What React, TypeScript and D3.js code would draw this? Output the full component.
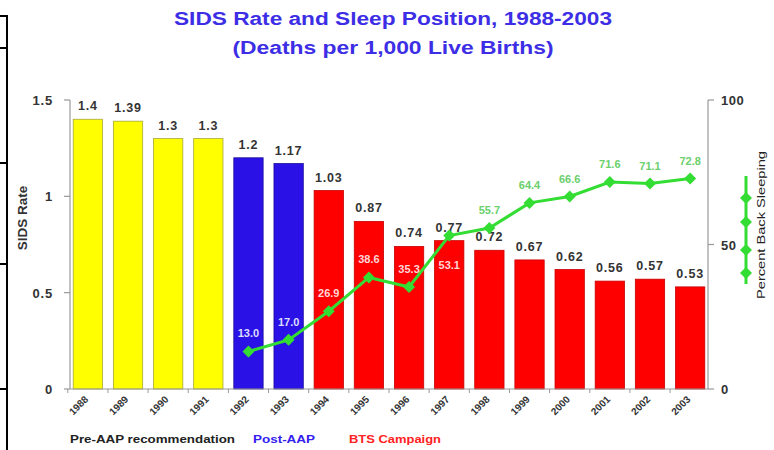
import React from "react";
import * as d3 from "d3";

const years = ["1988","1989","1990","1991","1992","1993","1994","1995","1996","1997","1998","1999","2000","2001","2002","2003"];
const sidsRate = [1.4,1.39,1.3,1.3,1.2,1.17,1.03,0.87,0.74,0.77,0.72,0.67,0.62,0.56,0.57,0.53];
const sidsLabels = ["1.4","1.39","1.3","1.3","1.2","1.17","1.03","0.87","0.74","0.77","0.72","0.67","0.62","0.56","0.57","0.53"];
const periods = ["pre","pre","pre","pre","post","post","bts","bts","bts","bts","bts","bts","bts","bts","bts","bts"];
const backYears = ["1992","1993","1994","1995","1996","1997","1998","1999","2000","2001","2002","2003"];
const backPct = [13.0,17.0,26.9,38.6,35.3,53.1,55.7,64.4,66.6,71.6,71.1,72.8];
const leftTicks = [0,0.5,1,1.5];
const leftTickLabels = ["0","0.5","1","1.5"];
const rightTicks = [0,50,100];
const legendItems = ["Pre-AAP recommendation","Post-AAP","BTS Campaign"];
const borderTicks = [16,48,163,264,389];

const W = 774, H = 450;
const FONT = "'Liberation Sans', Arial, sans-serif";
const colors: Record<string,string> = { pre: "#ffff00", post: "#2a12e6", bts: "#ff0000" };
const strokes: Record<string,string> = { pre: "#a8a83a", post: "#1a0a9a", bts: "#c80000" };
const GREEN = "#33dd33";

export default function App() {
  const x = d3.scaleBand<string>().domain(years).range([70, 708]).paddingInner(0.27).paddingOuter(0.08);
  const yL = d3.scaleLinear().domain([0, 1.5]).range([389, 100]);
  const yR = d3.scaleLinear().domain([0, 100]).range([389, 100]);
  const bw = x.bandwidth();
  const cx = (yr: string) => (x(yr) ?? 0) + bw / 2;
  const line = d3.line<number>().x((_, i) => cx(backYears[i])).y(d => yR(d));
  const diamond = "M0,-6L6,0L0,6L-6,0Z";
  const labelColor = (yr: string) => {
    const p = periods[years.indexOf(yr)];
    const v = backPct[backYears.indexOf(yr)];
    if (p === "post") return "#dcdcff";
    if (v < 54) return "#ffd6d6";
    return "#6ccf6c";
  };
  const legendX = [70, 253, 349];
  const legendW = [165, 62, 92];
  const legendC = ["#222222", "#3322ee", "#ff2222"];

  return (
    <svg width={W} height={H} style={{ position: "absolute", left: 0, top: 0, background: "#fff" }} fontFamily={FONT}>
      <rect width={W} height={H} fill="#fff" />
      {/* border artifacts at left */}
      <line x1={7} x2={7} y1={15} y2={H} stroke="#000" strokeWidth={2} />
      {borderTicks.map((t, i) => (
        <line key={i} x1={0} x2={8} y1={t} y2={t} stroke="#000" strokeWidth={2} />
      ))}
      {/* title */}
      <text x={393} y={25} textAnchor="middle" fontSize={18} fontWeight="bold" fill="#3d2ee6" textLength={438} lengthAdjust="spacingAndGlyphs">SIDS Rate and Sleep Position, 1988-2003</text>
      <text x={393} y={54} textAnchor="middle" fontSize={18} fontWeight="bold" fill="#3d2ee6" textLength={321} lengthAdjust="spacingAndGlyphs">(Deaths per 1,000 Live Births)</text>

      {/* bars */}
      {years.map((yr, i) => (
        <rect key={yr} x={x(yr)} y={yL(sidsRate[i])} width={bw} height={yL(0) - yL(sidsRate[i])}
          fill={colors[periods[i]]} stroke={strokes[periods[i]]} strokeWidth={0.8} />
      ))}
      {years.map((yr, i) => (
        <text key={yr} x={cx(yr)} y={yL(sidsRate[i]) - 9} textAnchor="middle" fontSize={12.5} fontWeight="bold" fill="#333" letterSpacing={0.8}>{sidsLabels[i]}</text>
      ))}

      {/* axes */}
      <line x1={70} x2={70} y1={yL(1.5)} y2={yL(0)} stroke="#999" strokeWidth={1.2} />
      {leftTicks.map((t, i) => (
        <g key={t}>
          <line x1={64} x2={70} y1={yL(t)} y2={yL(t)} stroke="#999" strokeWidth={1.2} />
          <text x={53} y={yL(t) + 5} textAnchor="end" fontSize={13} fontWeight="bold" fill="#333" letterSpacing={0.8}>{leftTickLabels[i]}</text>
        </g>
      ))}
      <line x1={708} x2={708} y1={yR(100)} y2={yR(0)} stroke="#999" strokeWidth={1.2} />
      {rightTicks.map(t => (
        <g key={t}>
          <line x1={708} x2={714} y1={yR(t)} y2={yR(t)} stroke="#999" strokeWidth={1.2} />
          <text x={721} y={yR(t) + 5} textAnchor="start" fontSize={13} fontWeight="bold" fill="#333" letterSpacing={0.5}>{t}</text>
        </g>
      ))}
      <line x1={70} x2={708} y1={389} y2={389} stroke="#999" strokeWidth={1.2} />
      {years.map(yr => (
        <line key={yr} x1={(x(yr) ?? 0) - x.step() * x.paddingInner() / 2} x2={(x(yr) ?? 0) - x.step() * x.paddingInner() / 2} y1={389} y2={393} stroke="#999" />
      ))}
      <text transform="translate(27,218) rotate(-90)" textAnchor="middle" fontSize={13.5} fontWeight="bold" fill="#333">SIDS Rate</text>
      <text transform="translate(765,225) rotate(-90)" textAnchor="middle" fontSize={11} fill="#222" textLength={148} lengthAdjust="spacingAndGlyphs">Percent Back Sleeping</text>

      {/* year labels */}
      {years.map(yr => (
        <text key={yr} transform={`translate(${cx(yr) + 1},400) rotate(-45)`} textAnchor="end" fontSize={10} fontWeight="bold" fill="#333">{yr}</text>
      ))}

      {/* back sleeping line */}
      <path d={line(backPct) ?? ""} fill="none" stroke={GREEN} strokeWidth={3} />
      {backPct.map((v, i) => (
        <path key={i} d={diamond} transform={`translate(${cx(backYears[i])},${yR(v)})`} fill={GREEN} />
      ))}
      {backPct.map((v, i) => {
        const yr = backYears[i];
        const below = yr === "1997";
        return (
          <text key={i} x={cx(yr)} y={below ? yR(v) + 33 : yR(v) - 14} textAnchor="middle" fontSize={11} fontWeight="bold" fill={labelColor(yr)}>{v.toFixed(1)}</text>
        );
      })}

      {/* right legend symbol */}
      <line x1={746} x2={746} y1={176} y2={284} stroke={GREEN} strokeWidth={3} />
      {[198, 222, 250, 273].map((yy, i) => (
        <path key={i} d={diamond} transform={`translate(746,${yy})`} fill={GREEN} />
      ))}

      {/* legend */}
      {legendItems.map((t, i) => (
        <text key={t} x={legendX[i]} y={443} fontSize={11.5} fontWeight="bold" fill={legendC[i]} textLength={legendW[i]} lengthAdjust="spacingAndGlyphs">{t}</text>
      ))}
    </svg>
  );
}
